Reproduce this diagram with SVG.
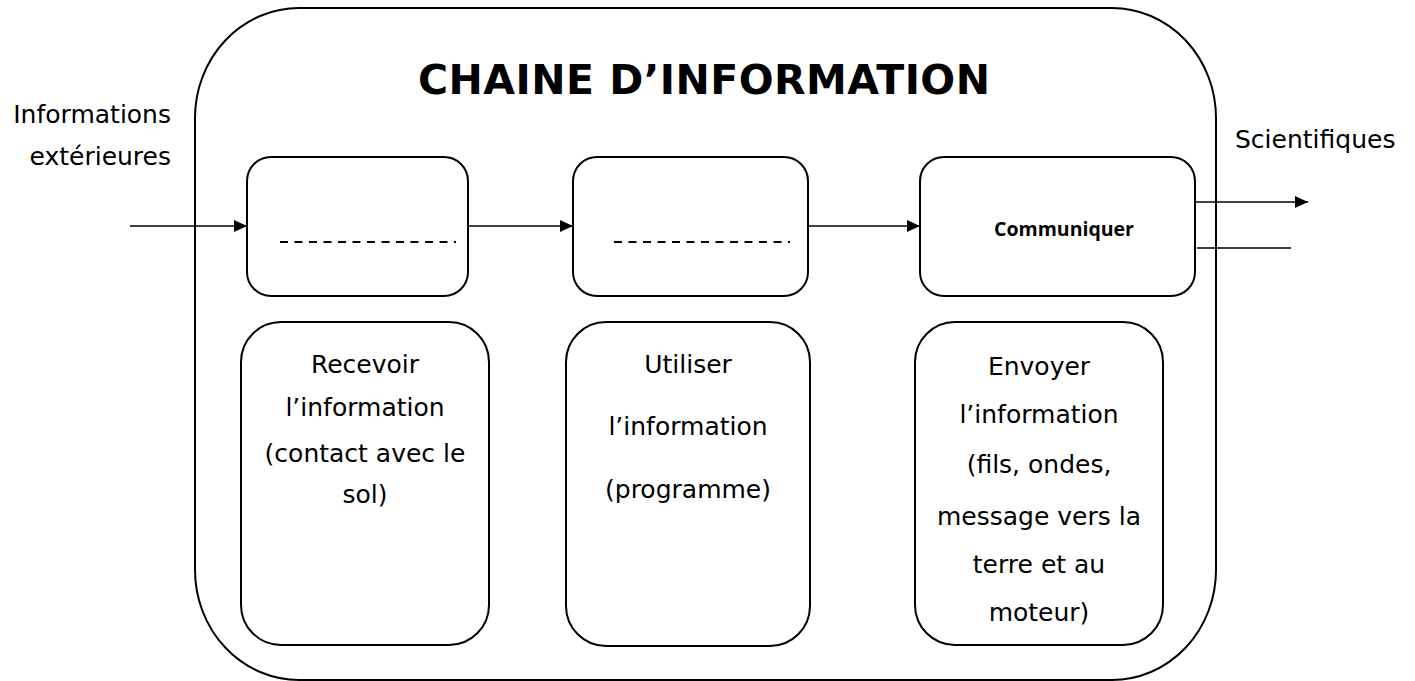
<svg xmlns="http://www.w3.org/2000/svg" width="1415" height="681" viewBox="0 0 1415 681">
<style>
.box{fill:none;stroke:#000;stroke-width:2}
.t{font-family:"DejaVu Sans",sans-serif;font-size:25px;fill:#000}
.c{text-anchor:middle}
.ln{stroke:#000;stroke-width:1.6;fill:none}
.dash{stroke:#000;stroke-width:1.8;stroke-dasharray:8 6.5}
</style>
<defs>
<marker id="ah" markerWidth="14" markerHeight="12" refX="13" refY="6" orient="auto" markerUnits="userSpaceOnUse">
<path d="M0,0 L13,6 L0,12 Z" fill="#000"/>
</marker>
</defs>
<rect width="1415" height="681" fill="#fff"/>
<g id="chaine">
<rect class="box" x="195" y="8" width="1021" height="672" rx="104" ry="110"/>
<text class="t c" x="704" y="94" style="font-weight:bold;font-size:41px" textLength="572">CHAINE D’INFORMATION</text>
</g>
<g id="label-in">
<text class="t" x="171" y="123" text-anchor="end">Informations</text>
<text class="t" x="171" y="165" text-anchor="end">extérieures</text>
</g>
<g id="label-out">
<text class="t" x="1235" y="148">Scientifiques</text>
</g>
<g id="box1">
<rect class="box" x="247" y="157" width="221" height="139" rx="24"/>
<line class="dash" x1="280" y1="242" x2="456" y2="242"/>
</g>
<g id="box2">
<rect class="box" x="573" y="157" width="235" height="139" rx="24"/>
<line class="dash" x1="614" y1="242" x2="790" y2="242"/>
</g>
<g id="box3">
<rect class="box" x="920" y="157" width="275" height="139" rx="24"/>
<text x="1064" y="236" text-anchor="middle" style="font-family:'Open Sans',sans-serif;font-weight:bold;font-size:19.5px">Communiquer</text>
</g>
<g id="recevoir">
<rect class="box" x="241" y="322" width="248" height="323" rx="40"/>
<text class="t c" x="365" y="373">Recevoir</text>
<text class="t c" x="365" y="416">l’information</text>
<text class="t c" x="365" y="462">(contact avec le</text>
<text class="t c" x="365" y="503">sol)</text>
</g>
<g id="utiliser">
<rect class="box" x="566" y="322" width="244" height="324" rx="40"/>
<text class="t c" x="688" y="373">Utiliser</text>
<text class="t c" x="688" y="435">l’information</text>
<text class="t c" x="688" y="498">(programme)</text>
</g>
<g id="envoyer">
<rect class="box" x="915" y="322" width="248" height="323" rx="40"/>
<text class="t c" x="1039" y="375">Envoyer</text>
<text class="t c" x="1039" y="423">l’information</text>
<text class="t c" x="1039" y="473">(fils, ondes,</text>
<text class="t c" x="1039" y="525">message vers la</text>
<text class="t c" x="1039" y="573">terre et au</text>
<text class="t c" x="1039" y="621">moteur)</text>
</g>
<g id="connectors">
<line class="ln" x1="130" y1="226" x2="247" y2="226" marker-end="url(#ah)"/>
<line class="ln" x1="468" y1="226" x2="573" y2="226" marker-end="url(#ah)"/>
<line class="ln" x1="808" y1="226" x2="920" y2="226" marker-end="url(#ah)"/>
<line class="ln" x1="1195" y1="202" x2="1308" y2="202" marker-end="url(#ah)"/>
<line class="ln" x1="1197" y1="248" x2="1291" y2="248"/>
</g>
</svg>
